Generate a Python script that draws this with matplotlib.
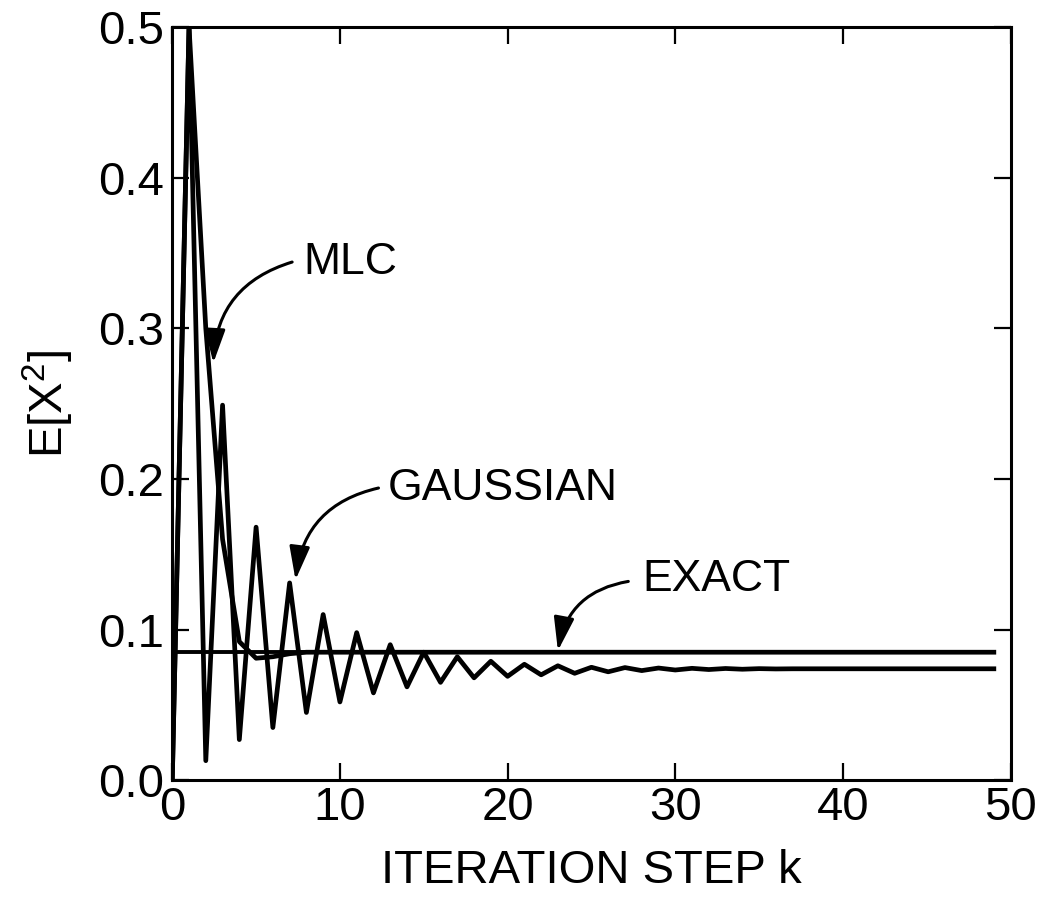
import matplotlib
matplotlib.use("Agg")
import matplotlib.pyplot as plt

# iteration steps and curve values
k_steps = list(range(50))

gaussian = [0.000, 0.500, 0.013, 0.249, 0.027, 0.168, 0.035, 0.131, 0.045, 0.110,
            0.052, 0.098, 0.058, 0.090, 0.062, 0.085, 0.065, 0.082, 0.068, 0.079,
            0.069, 0.077, 0.070, 0.076, 0.071, 0.075, 0.072, 0.0748, 0.0728, 0.0745,
            0.0732, 0.0743, 0.0735, 0.0742, 0.0737, 0.0741, 0.0739, 0.0740, 0.0740, 0.0740,
            0.0740, 0.0740, 0.0740, 0.0740, 0.0740, 0.0740, 0.0740, 0.0740, 0.0740, 0.0740]

mlc = [0.000, 0.500, 0.300, 0.160, 0.092, 0.081, 0.082, 0.084, 0.085, 0.085,
       0.085, 0.085, 0.085, 0.085, 0.085, 0.085, 0.085, 0.085, 0.085, 0.085,
       0.085, 0.085, 0.085, 0.085, 0.085, 0.085, 0.085, 0.085, 0.085, 0.085,
       0.085, 0.085, 0.085, 0.085, 0.085, 0.085, 0.085, 0.085, 0.085, 0.085,
       0.085, 0.085, 0.085, 0.085, 0.085, 0.085, 0.085, 0.085, 0.085, 0.085]

exact_k = [0, 49]
exact = [0.085, 0.085]

x_ticks = [0, 10, 20, 30, 40, 50]
y_ticks = [0.0, 0.1, 0.2, 0.3, 0.4, 0.5]
y_tick_labels = ["0.0", "0.1", "0.2", "0.3", "0.4", "0.5"]

plt.rcParams['font.family'] = ['Liberation Sans', 'DejaVu Sans']
plt.rcParams['mathtext.fontset'] = 'custom'
plt.rcParams['mathtext.rm'] = 'Liberation Sans'
plt.rcParams['mathtext.it'] = 'Liberation Sans'
plt.rcParams['mathtext.default'] = 'regular'

fig = plt.figure(figsize=(10.44, 9.01), dpi=100)
ax = fig.add_axes([0.165, 0.134, 0.803, 0.836])

ax.plot(k_steps, gaussian, color='black', lw=3.4)
ax.plot(k_steps, mlc, color='black', lw=3.4)
ax.plot(exact_k, exact, color='black', lw=2.8)

ax.set_xlim(0, 50)
ax.set_ylim(0, 0.5)
ax.set_xticks(x_ticks)
ax.set_yticks(y_ticks)
ax.set_yticklabels(y_tick_labels)
ax.tick_params(direction='in', length=12, width=1.6, top=True, right=True,
               labelsize=34, pad=6)
ax.tick_params(axis='x', pad=4)
for sp in ax.spines.values():
    sp.set_linewidth(2.2)

ax.set_xlabel('ITERATION STEP k', fontsize=34, labelpad=14)
ax.set_ylabel('E[X$^{2}$]', fontsize=34, labelpad=16)

# labels with curved arrows
arrow = dict(arrowstyle='-|>,head_length=0.85,head_width=0.26', color='black',
             lw=2.2, mutation_scale=24, shrinkA=0, shrinkB=0,
             connectionstyle='arc3,rad=0.35')

ax.text(7.8, 0.344, 'MLC', fontsize=32, va='center', ha='left')
ax.annotate('', xy=(2.45, 0.277), xytext=(7.15, 0.344), arrowprops=arrow)

ax.text(12.85, 0.194, 'GAUSSIAN', fontsize=32, va='center', ha='left')
ax.annotate('', xy=(7.35, 0.133), xytext=(12.3, 0.194), arrowprops=arrow)

ax.text(28.05, 0.133, 'EXACT', fontsize=32, va='center', ha='left')
ax.annotate('', xy=(23.0, 0.086), xytext=(27.2, 0.132), arrowprops=arrow)

fig.savefig('out.png', dpi=100)
